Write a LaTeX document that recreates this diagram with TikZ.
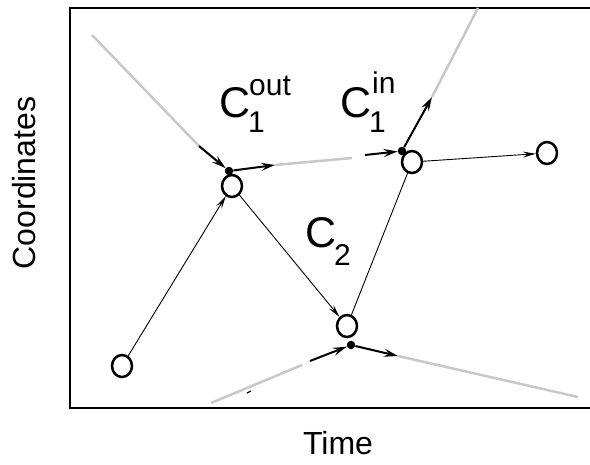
\documentclass[tikz,border=0pt]{standalone}
\usepackage{fontspec}
\setmainfont{Liberation Sans}
\usetikzlibrary{arrows.meta,shapes.geometric}
\definecolor{greyline}{RGB}{200,200,200}
\tikzset{
  pt/.style={ellipse,draw,line width=2.5pt,minimum width=20pt,minimum height=22pt,inner sep=0pt},
  dot/.style={circle,fill=black,minimum size=8.5pt,inner sep=0pt},
  thinarrow/.style={line width=0.9pt,-{Stealth[length=13pt,width=6pt,inset=5pt]}},
  thickarrow/.style={line width=2pt,-{Stealth[length=14pt,width=8pt,inset=5pt]}},
  greyseg/.style={line width=2.5pt,greyline},
  lbl/.style={inner sep=0pt,anchor=base west,font=\fontsize{43}{46}\selectfont},
  lblsmall/.style={inner sep=0pt,anchor=base west,font=\fontsize{30}{34}\selectfont},
  axlbl/.style={inner sep=0pt,font=\fontsize{32}{36}\selectfont}
}
\begin{document}
\begin{tikzpicture}[x=1pt,y=-1pt]
\useasboundingbox (0,0) rectangle (590,464);
% frame
\coordinate (f1) at (590,8);
\coordinate (f2) at (70,8);
\coordinate (f3) at (70,408);
\coordinate (f4) at (590,408);
\draw[line width=1.6pt] (f1) -- (f2) -- (f3) -- (f4);
% axis labels
\node[axlbl] (xl) at (338,443) {Time};
\node[axlbl,rotate=90] (yl) at (24,183) {Coordinates};
% points
\node[pt] (A) at (122,366) {};
\node[pt] (B) at (232,186) {};
\node[pt] (C) at (347,326) {};
\node[pt] (D) at (412,162) {};
\node[pt] (E) at (547,153) {};
% dots
\node[dot] (bB) at (229,171) {};
\node[dot] (dD) at (402,151) {};
\node[dot] (dC) at (351,345) {};
% thin arrows
\draw[thinarrow] (A) -- (B);
\draw[thinarrow] (B) -- (C);
\draw[line width=0.9pt] (C) -- (D);
\draw[thinarrow] (D) -- (E);
% grey + thick segments
\coordinate (g1) at (92,35);
\coordinate (k1) at (199,146);
\draw[greyseg] (g1) -- (k1);
\draw[thickarrow] (k1) -- (bB);
\coordinate (k2) at (275,165);
\coordinate (k3) at (352,158);
\coordinate (k4) at (365,155);
\draw[thickarrow] (bB) -- (k2);
\draw[greyseg] (k2) -- (k3);
\draw[thickarrow] (k4) -- (dD);
\coordinate (k5) at (432,97);
\coordinate (k6) at (478,8);
\draw[thickarrow] (dD) -- (k5);
\draw[greyseg] (k5) -- (k6);
\coordinate (k7) at (211,403);
\coordinate (k8) at (302,365);
\coordinate (k9) at (310,361);
\draw[greyseg] (k7) -- (k8);
\draw[thickarrow] (k9) -- (dC);
\coordinate (m1) at (247,393);
\coordinate (m2) at (251,391);
\draw[line width=1.2pt] (m1) -- (m2);
\coordinate (k10) at (398,356);
\coordinate (k11) at (578,397);
\draw[thickarrow] (dC) -- (k10);
\draw[greyseg] (k10) -- (k11);
% labels
\node[lbl] (c1o) at (219,117) {C};
\node[lblsmall] (c1os) at (249,95) {out};
\node[lblsmall] (c1ob) at (248,132) {1};
\node[lbl] (c1i) at (340,117) {C};
\node[lblsmall] (c1is) at (372,93) {in};
\node[lblsmall] (c1ib) at (369,132) {1};
\node[lbl] (c2) at (305,247) {C};
\node[lblsmall] (c2b) at (334,265) {2};
\end{tikzpicture}
\end{document}
